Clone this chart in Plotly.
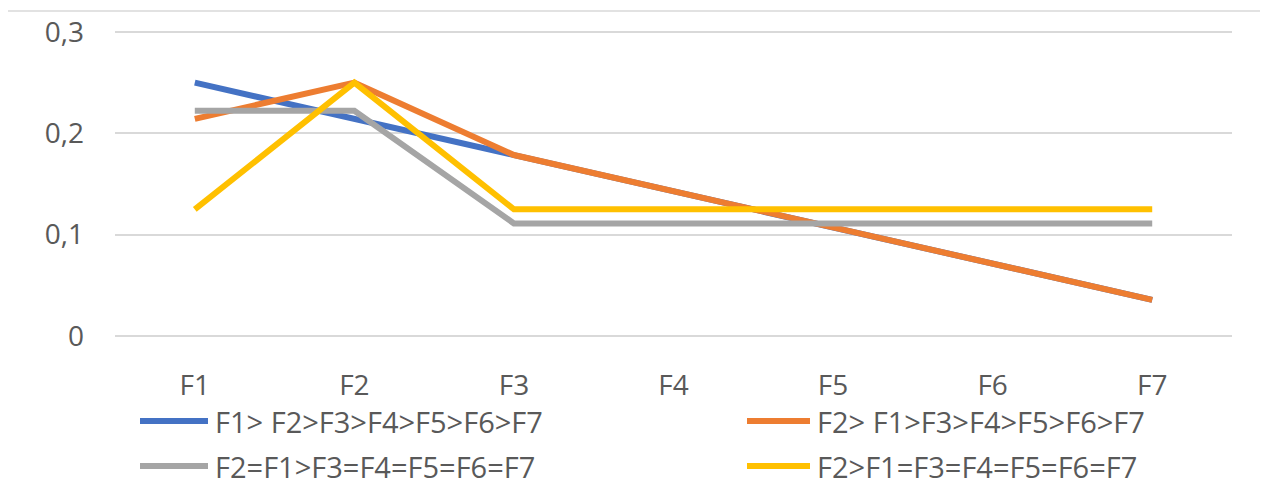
import plotly.graph_objects as go

categories = ["F1", "F2", "F3", "F4", "F5", "F6", "F7"]
series_names = [
    "F1> F2>F3>F4>F5>F6>F7",
    "F2> F1>F3>F4>F5>F6>F7",
    "F2=F1>F3=F4=F5=F6=F7",
    "F2>F1=F3=F4=F5=F6=F7",
]
blue_vals = [0.25, 0.2143, 0.1786, 0.1429, 0.1071, 0.0714, 0.0357]
orange_vals = [0.2143, 0.25, 0.1786, 0.1429, 0.1071, 0.0714, 0.0357]
gray_vals = [0.2222, 0.2222, 0.1111, 0.1111, 0.1111, 0.1111, 0.1111]
yellow_vals = [0.125, 0.25, 0.125, 0.125, 0.125, 0.125, 0.125]
y_ticks = [0, 0.1, 0.2, 0.3]

colors = ["#4472C4", "#ED7D31", "#A5A5A5", "#FFC000"]
all_vals = [blue_vals, orange_vals, gray_vals, yellow_vals]

OFF = 8  # page body margin
W, H = 1268 - OFF, 494 - OFF
# data area in screen pixels: y=0.3 at 32, y=0 at 336
PAD = 3  # px of padding so edge gridlines are drawn
k = (336 - 32) / 0.3
ypad = PAD / k
SL, SR, ST, SB = 115, 1232, 32 - PAD, 336 + PAD
L, R, T, B = SL - OFF, SR - OFF, ST - OFF, SB - OFF

def px(xs):
    return (xs - SL) / (SR - SL)

def py(ys):
    return (SB - ys) / (SB - ST)

fig = go.Figure()
for name, vals, c in zip(series_names, all_vals, colors):
    fig.add_trace(go.Scatter(
        x=categories, y=vals, name=name, mode="lines",
        line=dict(color=c, width=6), showlegend=False,
    ))

font_family = "Open Sans, Liberation Sans, sans-serif"
text_color = "#595959"

shapes = []
annotations = []
legend_pos = [(140, 208, 213, 421), (747, 810, 815, 421),
              (140, 208, 213, 466), (747, 810, 815, 466)]
for name, c, (x0, x1, xt, yy) in zip(series_names, colors, legend_pos):
    shapes.append(dict(type="line", xref="paper", yref="paper",
                       x0=px(x0), x1=px(x1), y0=py(yy), y1=py(yy),
                       line=dict(color=c, width=6)))
    annotations.append(dict(xref="paper", yref="paper", x=px(xt), y=py(yy),
                            xanchor="left", yanchor="middle", showarrow=False,
                            text=name, font=dict(size=29, color=text_color,
                                                 family=font_family)))
shapes.append(dict(type="rect", xref="paper", yref="paper",
                   x0=px(7), x1=px(1300), y0=py(11), y1=py(530),
                   line=dict(color="#d9d9d9", width=1.5),
                   fillcolor="rgba(0,0,0,0)", layer="below"))

fig.update_layout(
    width=W, height=H,
    margin=dict(l=L, r=W - R, t=T, b=H - B, pad=0, autoexpand=False),
    paper_bgcolor="white", plot_bgcolor="white",
    separators=", ",
    font=dict(family=font_family, color=text_color, size=28),
    shapes=shapes, annotations=annotations,
    xaxis=dict(type="category", range=[-0.5, 6.5], showgrid=False,
               zeroline=False, showline=False, ticks="", automargin=False,
               tickfont=dict(size=28, color=text_color),
               ticklabelstandoff=27),
    yaxis=dict(range=[-ypad, 0.3 + ypad], tickvals=y_ticks, showgrid=True,
               gridcolor="#d9d9d9", gridwidth=1.5, zeroline=False,
               showline=False, ticks="", automargin=False,
               tickfont=dict(size=28, color=text_color),
               ticklabelstandoff=30),
)

fig.write_html("out.html")
